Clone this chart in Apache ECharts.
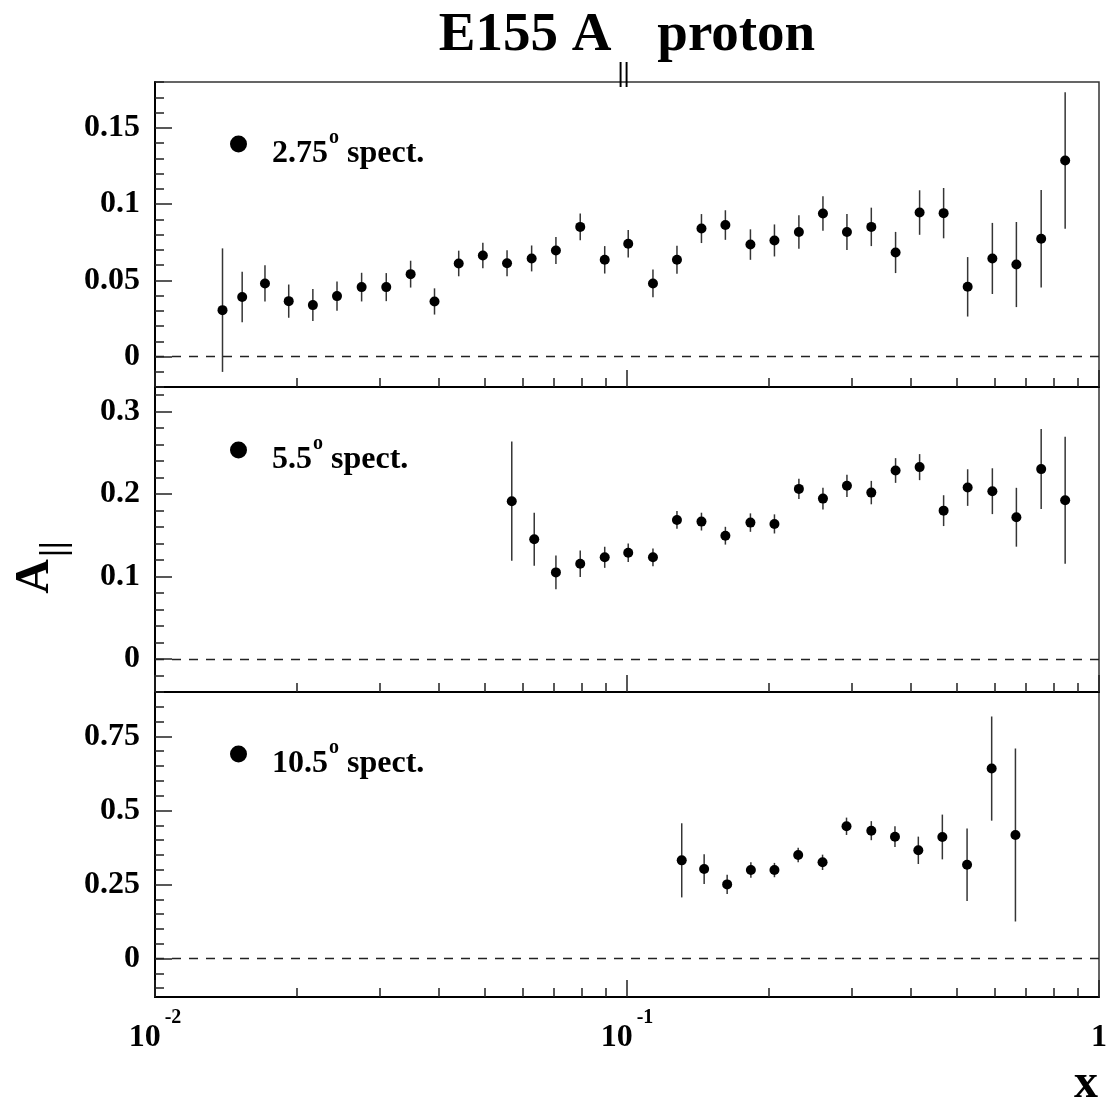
<!DOCTYPE html>
<html>
<head>
<meta charset="utf-8">
<title>E155 A|| proton</title>
<script src="https://cdn.jsdelivr.net/npm/echarts@6/dist/echarts.min.js"></script>
<style>
  html, body { margin: 0; padding: 0; background: #ffffff; }
  #chart { width: 1107px; height: 1103px; }
</style>
</head>
<body>
<div id="chart"></div>
<script>
// ---- measured asymmetry A|| per spectrometer: x (Bjorken), value, statistical error ----
const x275 = [0.0139, 0.0153, 0.0171, 0.0192, 0.0216, 0.0243, 0.0274, 0.0309, 0.0348, 0.0391,
              0.0440, 0.0495, 0.0557, 0.0628, 0.0707, 0.0796, 0.0897, 0.1006, 0.1135, 0.1276,
              0.1438, 0.1616, 0.1826, 0.2053, 0.2313, 0.2601, 0.2924, 0.3293, 0.3707, 0.4168,
              0.4686, 0.5269, 0.5944, 0.6683, 0.7542, 0.8478];
const a275 = [0.0304, 0.0390, 0.0479, 0.0363, 0.0337, 0.0396, 0.0455, 0.0455, 0.0540, 0.0361,
              0.0610, 0.0662, 0.0612, 0.0643, 0.0695, 0.0850, 0.0634, 0.0739, 0.0479, 0.0634,
              0.0839, 0.0862, 0.0734, 0.0761, 0.0816, 0.0938, 0.0816, 0.0850, 0.0682, 0.0944,
              0.0940, 0.0457, 0.0643, 0.0603, 0.0772, 0.1285];
const e275 = [0.0405, 0.0165, 0.0119, 0.0109, 0.0105, 0.0096, 0.0094, 0.0092, 0.0088, 0.0086,
              0.0084, 0.0084, 0.0085, 0.0085, 0.0089, 0.0088, 0.0090, 0.0090, 0.0091, 0.0092,
              0.0095, 0.0097, 0.0100, 0.0105, 0.0110, 0.0113, 0.0118, 0.0126, 0.0135, 0.0146,
              0.0165, 0.0195, 0.0233, 0.0279, 0.0319, 0.0447];

const x55 = [0.0570, 0.0636, 0.0707, 0.0796, 0.0897, 0.1006, 0.1135, 0.1276, 0.1438, 0.1616,
             0.1826, 0.2053, 0.2313, 0.2601, 0.2924, 0.3293, 0.3707, 0.4168, 0.4686, 0.5269,
             0.5944, 0.6683, 0.7542, 0.8478];
const a55 = [0.1915, 0.1453, 0.1051, 0.1156, 0.1234, 0.1290, 0.1234, 0.1687, 0.1667, 0.1496,
             0.1655, 0.1639, 0.2064, 0.1946, 0.2101, 0.2019, 0.2287, 0.2328, 0.1800, 0.2080,
             0.2036, 0.1720, 0.2304, 0.1927];
const e55 = [0.0724, 0.0322, 0.0205, 0.0160, 0.0128, 0.0112, 0.0108, 0.0108, 0.0108, 0.0108,
             0.0112, 0.0116, 0.0122, 0.0132, 0.0136, 0.0142, 0.0150, 0.0158, 0.0187, 0.0222,
             0.0278, 0.0357, 0.0485, 0.0770];

const x105 = [0.1306, 0.1457, 0.1630, 0.1830, 0.2053, 0.2305, 0.2596, 0.2918, 0.3293, 0.3696,
              0.4142, 0.4657, 0.5254, 0.5924, 0.6652];
const a105 = [0.3315, 0.3020, 0.2503, 0.2987, 0.2987, 0.3495, 0.3248, 0.4465, 0.4317, 0.4114,
              0.3654, 0.4104, 0.3167, 0.6414, 0.4171];
const e105 = [0.1252, 0.0502, 0.0322, 0.0260, 0.0242, 0.0242, 0.0259, 0.0293, 0.0322, 0.0350,
              0.0462, 0.0756, 0.1225, 0.1759, 0.2921];

// ---- spectrometer labels ----
const spectAngles = ['2.75', '5.5', '10.5'];

// ---- axis ranges and tick labels ----
const yRanges = [[-0.02, 0.18], [-0.04, 0.33], [-0.13, 0.90]];
const yMajorTicks = [[0, 0.05, 0.1, 0.15], [0, 0.1, 0.2, 0.3], [0, 0.25, 0.5, 0.75]];
const yMajorLabels = [['0', '0.05', '0.1', '0.15'], ['0', '0.1', '0.2', '0.3'], ['0', '0.25', '0.5', '0.75']];
const yMinorSteps = [0.01, 0.02, 0.05];

const xRange = [0.01, 1];
const xLabelTicks = [0.01, 0.1, 1];
const xLabelBase = ['10', '10', '1'];
const xLabelExp = ['-2', '-1', ''];
const xMajorTicks = [0.01, 0.1, 1];
const xMinorTicks = [0.02, 0.03, 0.04, 0.05, 0.06, 0.07, 0.08, 0.09,
                     0.2, 0.3, 0.4, 0.5, 0.6, 0.7, 0.8, 0.9];

const FONT = 'Liberation Serif';
const INK = '#000000';

function minorTicks(range, step, majors) {
  const out = [];
  const n0 = Math.ceil(range[0] / step - 1e-9);
  const n1 = Math.floor(range[1] / step + 1e-9);
  for (let n = n0; n <= n1; n++) {
    const v = Math.round(n * step * 1e6) / 1e6;
    if (majors.indexOf(v) < 0) out.push(v);
  }
  return out;
}

const panels = [
  { x: x275, a: a275, e: e275 },
  { x: x55, a: a55, e: e55 },
  { x: x105, a: a105, e: e105 }
];
const gridTops = [82, 387, 692];
const legendTops = [128, 434, 738];

const grid = [], xAxis = [], yAxis = [], series = [], legend = [];

panels.forEach((p, i) => {
  grid.push({
    left: 155, right: 8, top: gridTops[i], height: 305,
    outerBoundsMode: 'none', containLabel: false,
    show: true, borderColor: '#333', borderWidth: 1.5, backgroundColor: 'transparent'
  });

  const isBottom = i === 2;
  // major x axis: carries the data, long tick at each decade, labels on the bottom panel
  xAxis.push({
    type: 'log', logBase: 10, gridIndex: i, min: xRange[0], max: xRange[1], position: 'bottom',
    axisLine: { show: true, onZero: false, lineStyle: { color: INK, width: 2 } },
    axisTick: { show: true, inside: true, length: 17, customValues: xMajorTicks,
                lineStyle: { color: '#222', width: 1.5 } },
    minorTick: { show: false },
    splitLine: { show: false },
    axisLabel: isBottom ? {
      show: true, margin: 11, customValues: xLabelTicks,
      formatter: v => {
        const k = xLabelTicks.indexOf(v);
        return xLabelExp[k] ? '{n|' + xLabelBase[k] + '}{s|' + xLabelExp[k] + '}'
                            : '{n|' + xLabelBase[k] + '}';
      },
      rich: {
        n: { fontFamily: FONT, fontWeight: 'bold', fontSize: 32, color: INK,
             lineHeight: 32, verticalAlign: 'top', padding: [14, 0, 0, 0] },
        s: { fontFamily: FONT, fontWeight: 'bold', fontSize: 20, color: INK,
             lineHeight: 20, verticalAlign: 'top', padding: [0, 0, 0, 4] }
      }
    } : { show: false }
  });
  // minor x axis: short ticks at 2..9 of each decade
  xAxis.push({
    type: 'log', logBase: 10, gridIndex: i, min: xRange[0], max: xRange[1], position: 'bottom',
    axisLine: { show: false, onZero: false },
    axisTick: { show: true, inside: true, length: 9, customValues: xMinorTicks,
                lineStyle: { color: '#222', width: 1.5 } },
    minorTick: { show: false }, splitLine: { show: false }, axisLabel: { show: false }
  });

  const isMiddle = i === 1;
  yAxis.push({
    type: 'value', gridIndex: i, min: yRanges[i][0], max: yRanges[i][1], position: 'left',
    axisLine: { show: true, onZero: false, lineStyle: { color: INK, width: 2 } },
    axisTick: { show: true, inside: true, length: 17, customValues: yMajorTicks[i],
                lineStyle: { color: '#222', width: 1.5 } },
    splitLine: { show: false },
    axisLabel: {
      show: true, margin: 15, customValues: yMajorTicks[i],
      formatter: v => yMajorLabels[i][yMajorTicks[i].indexOf(v)],
      fontFamily: FONT, fontWeight: 'bold', fontSize: 32, color: INK
    },
    name: isMiddle ? '{a|A}{s|||}' : '',
    nameLocation: 'middle', nameRotate: 90, nameGap: 95,
    nameTextStyle: {
      rich: {
        a: { fontFamily: FONT, fontWeight: 'bold', fontSize: 48, color: INK,
             lineHeight: 48, verticalAlign: 'top' },
        s: { fontFamily: FONT, fontWeight: 'bold', fontSize: 36, color: INK,
             lineHeight: 36, verticalAlign: 'top', padding: [25, 56, 0, 2] }
      }
    }
  });
  yAxis.push({
    type: 'value', gridIndex: i, min: yRanges[i][0], max: yRanges[i][1], position: 'left',
    axisLine: { show: false, onZero: false },
    axisTick: { show: true, inside: true, length: 9,
                customValues: minorTicks(yRanges[i], yMinorSteps[i], yMajorTicks[i]),
                lineStyle: { color: '#222', width: 1.5 } },
    splitLine: { show: false }, axisLabel: { show: false }
  });

  const name = spectAngles[i] + '\u00b0 spect.';
  const pts = p.x.map((xv, k) => [xv, p.a[k]]);
  const bars = p.x.map((xv, k) => [xv, p.a[k], p.e[k]]);

  series.push({
    type: 'custom', name: name + ' err', xAxisIndex: 2 * i, yAxisIndex: 2 * i,
    data: bars, encode: { x: 0, y: 1 }, silent: true, z: 2,
    renderItem: (params, api) => {
      const xv = api.value(0), yv = api.value(1), ev = api.value(2);
      const lo = api.coord([xv, yv - ev]);
      const hi = api.coord([xv, yv + ev]);
      return {
        type: 'line',
        shape: { x1: lo[0], y1: lo[1], x2: hi[0], y2: hi[1] },
        style: { stroke: '#353535', lineWidth: 1.5 }
      };
    }
  });
  series.push({
    type: 'scatter', name: name, xAxisIndex: 2 * i, yAxisIndex: 2 * i,
    data: pts, symbol: 'circle', symbolSize: 10, z: 3,
    itemStyle: { color: INK, opacity: 1 },
    markLine: {
      silent: true, symbol: ['none', 'none'], label: { show: false },
      lineStyle: { type: [9, 8], color: '#222', width: 1.3 },
      data: [{ yAxis: 0 }]
    }
  });

  legend.push({
    data: [name], left: 230, top: legendTops[i], padding: 0, orient: 'vertical',
    icon: 'circle', itemWidth: 17, itemHeight: 17, selectedMode: false,
    itemStyle: { color: INK, opacity: 1 },
    formatter: () => '{f|' + spectAngles[i] + '}{o|o}{a| spect.}',
    textStyle: {
      rich: {
        f: { fontFamily: FONT, fontWeight: 'bold', fontSize: 32, color: INK,
             lineHeight: 32, verticalAlign: 'top', padding: [10, 0, 6, 20] },
        o: { fontFamily: FONT, fontWeight: 'bold', fontSize: 20, color: INK,
             lineHeight: 20, verticalAlign: 'top', padding: [0, 0, 0, 1] },
        a: { fontFamily: FONT, fontWeight: 'bold', fontSize: 32, color: INK,
             lineHeight: 32, verticalAlign: 'top', padding: [10, 0, 6, 0] }
      }
    }
  });
});

const chart = echarts.init(document.getElementById('chart'), null, { renderer: 'canvas' });
chart.setOption({
  animation: false,
  backgroundColor: '#ffffff',
  title: {
    text: '{t|E155 A}{s|||}{t|  proton}',
    left: 627, top: 8, textAlign: 'center', padding: 0,
    textStyle: {
      rich: {
        t: { fontFamily: FONT, fontWeight: 'bold', fontSize: 55, color: INK,
             lineHeight: 56, verticalAlign: 'top' },
        s: { fontFamily: FONT, fontWeight: 'bold', fontSize: 28, color: INK,
             lineHeight: 28, verticalAlign: 'top', padding: [52, 0, 0, 6] }
      }
    }
  },
  // x-axis title, set below the right end of the bottom axis
  graphic: [{
    type: 'text', x: 1098, y: 1085, silent: true,
    style: {
      text: 'x', fill: INK, fontFamily: FONT, fontWeight: 'bold', fontSize: 48,
      align: 'right', verticalAlign: 'middle'
    }
  }],
  legend: legend,
  grid: grid,
  xAxis: xAxis,
  yAxis: yAxis,
  series: series
});
</script>
</body>
</html>
